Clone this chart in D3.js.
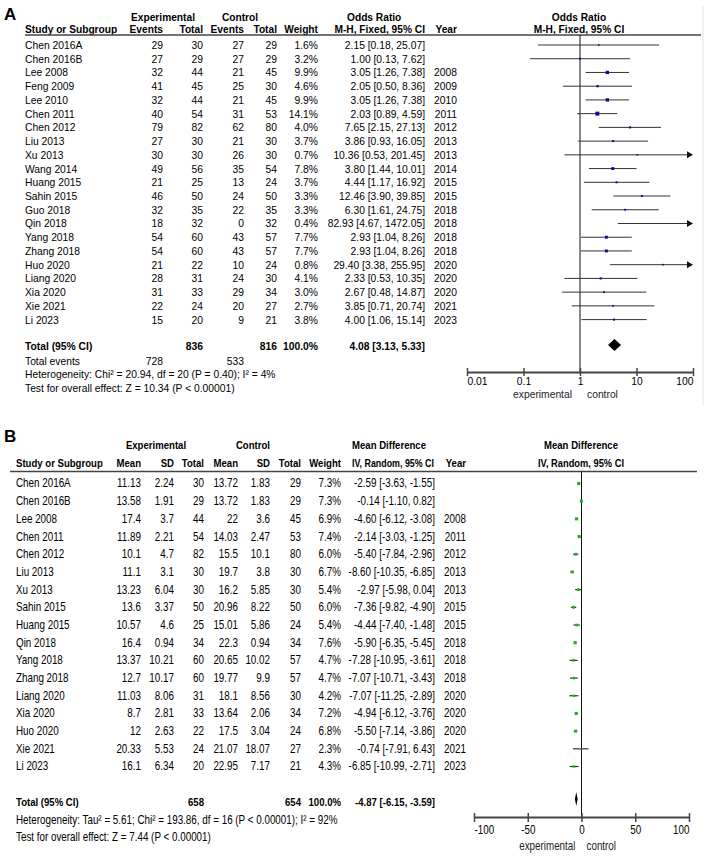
<!DOCTYPE html>
<html>
<head>
<meta charset="UTF-8">
<title>Forest plots A and B</title>
<script src="https://d3js.org/d3.v7.min.js"></script>
<style>
  body { margin: 0; background: #fff; }
  svg { display: block; }
</style>
</head>
<body>
<div id="chart"></div>
<script>
// ---------- panel A : odds ratio, fixed ----------
const studiesA = ["Chen 2016A", "Chen 2016B", "Lee 2008", "Feng 2009", "Lee 2010", "Chen 2011", "Chen 2012",
  "Liu 2013", "Xu 2013", "Wang 2014", "Huang 2015", "Sahin 2015", "Guo 2018", "Qin 2018", "Yang 2018",
  "Zhang 2018", "Huo 2020", "Liang 2020", "Xia 2020", "Xie 2021", "Li 2023"];
const expEventsA = [29, 27, 32, 41, 32, 40, 79, 27, 30, 49, 21, 46, 32, 18, 54, 54, 21, 28, 31, 22, 15];
const expTotalA  = [30, 29, 44, 45, 44, 54, 82, 30, 30, 56, 25, 50, 35, 32, 60, 60, 22, 31, 33, 24, 20];
const ctlEventsA = [27, 27, 21, 25, 21, 31, 62, 21, 26, 35, 13, 24, 22, 0, 43, 43, 10, 24, 29, 20, 9];
const ctlTotalA  = [29, 29, 45, 30, 45, 53, 80, 30, 30, 54, 24, 50, 35, 32, 57, 57, 24, 30, 34, 27, 21];
const weightA    = [1.6, 3.2, 9.9, 4.6, 9.9, 14.1, 4.0, 3.7, 0.7, 7.8, 3.7, 3.3, 3.3, 0.4, 7.7, 7.7, 0.8, 4.1, 3.0, 2.7, 3.8];
const orA   = [2.15, 1.00, 3.05, 2.05, 3.05, 2.03, 7.65, 3.86, 10.36, 3.80, 4.44, 12.46, 6.30, 82.93, 2.93, 2.93, 29.40, 2.33, 2.67, 3.85, 4.00];
const lowA  = [0.18, 0.13, 1.26, 0.50, 1.26, 0.89, 2.15, 0.93, 0.53, 1.44, 1.17, 3.90, 1.61, 4.67, 1.04, 1.04, 3.38, 0.53, 0.48, 0.71, 1.06];
const highA = [25.07, 7.62, 7.38, 8.36, 7.38, 4.59, 27.13, 16.05, 201.45, 10.01, 16.92, 39.85, 24.75, 1472.05, 8.26, 8.26, 255.95, 10.35, 14.87, 20.74, 15.14];
const yearA = ["", "", "2008", "2009", "2010", "2011", "2012", "2013", "2013", "2014", "2015", "2015", "2018", "2018", "2018", "2018", "2020", "2020", "2020", "2021", "2023"];
const totalA = {expTotal: 836, ctlTotal: 816, expEvents: 728, ctlEvents: 533, or: 4.08, low: 3.13, high: 5.33};
const ticksA = [0.01, 0.1, 1, 10, 100];

// ---------- panel B : mean difference, random ----------
const studiesB = ["Chen 2016A", "Chen 2016B", "Lee 2008", "Chen 2011", "Chen 2012", "Liu 2013", "Xu 2013",
  "Sahin 2015", "Huang 2015", "Qin 2018", "Yang 2018", "Zhang 2018", "Liang 2020", "Xia 2020", "Huo 2020",
  "Xie 2021", "Li 2023"];
const expMeanB  = [11.13, 13.58, 17.4, 11.89, 10.1, 11.1, 13.23, 13.6, 10.57, 16.4, 13.37, 12.7, 11.03, 8.7, 12, 20.33, 16.1];
const expSdB    = [2.24, 1.91, 3.7, 2.21, 4.7, 3.1, 6.04, 3.37, 4.6, 0.94, 10.21, 10.17, 8.06, 2.81, 2.63, 5.53, 6.34];
const expTotalB = [30, 29, 44, 54, 82, 30, 30, 50, 25, 34, 60, 60, 31, 33, 22, 24, 20];
const ctlMeanB  = [13.72, 13.72, 22, 14.03, 15.5, 19.7, 16.2, 20.96, 15.01, 22.3, 20.65, 19.77, 18.1, 13.64, 17.5, 21.07, 22.95];
const ctlSdB    = [1.83, 1.83, 3.6, 2.47, 10.1, 3.8, 5.85, 8.22, 5.86, 0.94, 10.02, 9.9, 8.56, 2.06, 3.04, 18.07, 7.17];
const ctlTotalB = [29, 29, 45, 53, 80, 30, 30, 50, 24, 34, 57, 57, 30, 34, 24, 27, 21];
const weightB   = [7.3, 7.3, 6.9, 7.4, 6.0, 6.7, 5.4, 6.0, 5.4, 7.6, 4.7, 4.7, 4.2, 7.2, 6.8, 2.3, 4.3];
const mdB   = [-2.59, -0.14, -4.60, -2.14, -5.40, -8.60, -2.97, -7.36, -4.44, -5.90, -7.28, -7.07, -7.07, -4.94, -5.50, -0.74, -6.85];
const lowB  = [-3.63, -1.10, -6.12, -3.03, -7.84, -10.35, -5.98, -9.82, -7.40, -6.35, -10.95, -10.71, -11.25, -6.12, -7.14, -7.91, -10.99];
const highB = [-1.55, 0.82, -3.08, -1.25, -2.96, -6.85, 0.04, -4.90, -1.48, -5.45, -3.61, -3.43, -2.89, -3.76, -3.86, 6.43, -2.71];
const yearB = ["", "", "2008", "2011", "2012", "2013", "2013", "2015", "2015", "2018", "2018", "2018", "2020", "2020", "2020", "2021", "2023"];
const totalB = {expTotal: 658, ctlTotal: 654, md: -4.87, low: -6.15, high: -3.59};
const ticksB = [-100, -50, 0, 50, 100];

const font = "'Liberation Sans', Arial, sans-serif";
const narrow = 0.82;   // panel B is set in a narrow face; squeeze Arial metrics horizontally
const ciFmt = (m, l, h) => m.toFixed(2) + " [" + l.toFixed(2) + ", " + h.toFixed(2) + "]";

const svg = d3.select("#chart").append("svg")
  .attr("width", 707).attr("height", 862)
  .attr("font-family", font)
  .style("background", "#fff");

function addText(g, x, y, s, anchor, sx) {
  sx = sx || 1;
  const t = g.append("text").attr("x", x / sx).attr("y", y)
    .attr("text-anchor", anchor || "start").text(s);
  if (sx !== 1) t.attr("transform", `scale(${sx},1)`);
  return t;
}

// draws one text column for all rows
function column(g, n, y, x, anchor, f, sx) {
  sx = sx || 1;
  const t = g.append("g").selectAll("text").data(d3.range(n)).join("text")
    .attr("x", x / sx).attr("y", i => y(i) + 4)
    .attr("text-anchor", anchor).text(f);
  if (sx !== 1) t.attr("transform", `scale(${sx},1)`);
}

// ================= PANEL A =================
const gA = svg.append("g").attr("font-size", 10.3).attr("fill", "#000");
const nA = studiesA.length;
const yA = d3.scaleLinear().domain([0, nA - 1]).range([45, 319.6]);
const xA = d3.scaleLog().domain([0.01, 100]).range([467, 693]);

addText(gA, 4, 20, "A").attr("font-size", 17).attr("font-weight", "bold");

const hA = gA.append("g").attr("font-weight", "bold").attr("font-size", 10.2);
addText(hA, 163, 20.5, "Experimental", "middle");
addText(hA, 240, 20.5, "Control", "middle");
addText(hA, 347, 20.5, "Odds Ratio");
addText(hA, 579, 20.5, "Odds Ratio", "middle");
addText(hA, 25, 32.5, "Study or Subgroup");
addText(hA, 163, 32.5, "Events", "end");
addText(hA, 203, 32.5, "Total", "end");
addText(hA, 244, 32.5, "Events", "end");
addText(hA, 277, 32.5, "Total", "end");
addText(hA, 318, 32.5, "Weight", "end");
addText(hA, 425, 32.5, "M-H, Fixed, 95% CI", "end");
addText(hA, 457, 32.5, "Year", "end");
addText(hA, 579, 32.5, "M-H, Fixed, 95% CI", "middle");
gA.append("line").attr("x1", 25).attr("x2", 701).attr("y1", 35).attr("y2", 35)
  .attr("stroke", "#444").attr("stroke-width", 1.3);
gA.append("line").attr("x1", 703).attr("x2", 703).attr("y1", 6).attr("y2", 405)
  .attr("stroke", "#e4e4e4").attr("stroke-width", 1);

column(gA, nA, yA, 25, "start", i => studiesA[i]);
column(gA, nA, yA, 163, "end", i => expEventsA[i]);
column(gA, nA, yA, 203, "end", i => expTotalA[i]);
column(gA, nA, yA, 244, "end", i => ctlEventsA[i]);
column(gA, nA, yA, 277, "end", i => ctlTotalA[i]);
column(gA, nA, yA, 318, "end", i => weightA[i].toFixed(1) + "%");
column(gA, nA, yA, 425, "end", i => ciFmt(orA[i], lowA[i], highA[i]));
column(gA, nA, yA, 457, "end", i => yearA[i]);

// totals
const tA = gA.append("g").attr("font-weight", "bold");
addText(tA, 25, 350, "Total (95% CI)");
addText(tA, 203, 350, totalA.expTotal, "end");
addText(tA, 277, 350, totalA.ctlTotal, "end");
addText(tA, 318, 350, "100.0%", "end");
addText(tA, 425, 350, ciFmt(totalA.or, totalA.low, totalA.high), "end");
addText(gA, 25, 364.5, "Total events");
addText(gA, 163, 364.5, totalA.expEvents, "end");
addText(gA, 244, 364.5, totalA.ctlEvents, "end");
addText(gA, 25, 378, "Heterogeneity: Chi\u00b2 = 20.94, df = 20 (P = 0.40); I\u00b2 = 4%");
addText(gA, 25, 392, "Test for overall effect: Z = 10.34 (P < 0.00001)");

// plot A
const axisYA = 372;
gA.append("line").attr("x1", xA(1)).attr("x2", xA(1)).attr("y1", 35).attr("y2", axisYA)
  .attr("stroke", "#111").attr("stroke-width", 1);
const xMaxA = xA.range()[1];
const ciA = gA.append("g");
ciA.selectAll("line").data(d3.range(nA)).join("line")
  .attr("x1", i => xA(Math.max(lowA[i], 0.01)))
  .attr("x2", i => highA[i] > 100 ? xMaxA - 4 : xA(highA[i]))
  .attr("y1", i => yA(i)).attr("y2", i => yA(i))
  .attr("stroke", "#333").attr("stroke-width", 1);
ciA.selectAll("path").data(d3.range(nA).filter(i => highA[i] > 100)).join("path")
  .attr("d", i => `M${xMaxA - 6},${yA(i) - 3.5}L${xMaxA},${yA(i)}L${xMaxA - 6},${yA(i) + 3.5}Z`)
  .attr("fill", "#111");
const boxA = i => Math.max(1.6, Math.sqrt(weightA[i]) * 1.05);
gA.append("g").selectAll("rect").data(d3.range(nA)).join("rect")
  .attr("x", i => xA(orA[i]) - boxA(i) / 2)
  .attr("y", i => yA(i) - boxA(i) / 2)
  .attr("width", boxA).attr("height", boxA)
  .attr("fill", "#0a0a9a");
const dyA = 345;
gA.append("path")
  .attr("d", `M${xA(totalA.low)},${dyA}L${xA(totalA.or)},${dyA - 6}L${xA(totalA.high)},${dyA}L${xA(totalA.or)},${dyA + 6}Z`)
  .attr("fill", "#000");

const axA = d3.axisBottom(xA).tickValues(ticksA).tickFormat(d => String(d)).tickSizeOuter(0);
const gAxA = gA.append("g").attr("transform", `translate(0,${axisYA})`).call(axA)
  .attr("font-family", font).attr("font-size", 10.3);
gAxA.select(".domain").attr("stroke", "#444").attr("stroke-width", 2);
gAxA.selectAll(".tick line").attr("y1", -4).attr("y2", 4).attr("stroke", "#444").attr("stroke-width", 1.5);
gAxA.selectAll(".tick text").attr("y", 13).attr("dy", 0).attr("fill", "#000")
  .attr("text-anchor", (d, i) => i === 0 ? "start" : i === ticksA.length - 1 ? "end" : "middle");
addText(gA, xA(1) - 8, 397.5, "experimental", "end").attr("fill", "#222");
addText(gA, xA(1) + 7, 397.5, "control").attr("fill", "#222");

// ================= PANEL B =================
const gB = svg.append("g").attr("font-size", 12).attr("fill", "#000");
const nB = studiesB.length;
const yB = d3.scaleLinear().domain([0, nB - 1]).range([483.5, 766.5]);
const xB = d3.scaleLinear().domain([-100, 100]).range([474, 689]);
const tb = (g, x, y, s, anchor) => addText(g, x, y, s, anchor, narrow);
const cb = (x, anchor, f) => column(gB, nB, yB, x, anchor, f, narrow);

addText(gB, 4, 442, "B").attr("font-size", 17).attr("font-weight", "bold");

const hB = gB.append("g").attr("font-weight", "bold").attr("font-size", 11.7);
tb(hB, 156, 449, "Experimental", "middle");
tb(hB, 253, 449, "Control", "middle");
tb(hB, 352, 449, "Mean Difference");
tb(hB, 581, 449, "Mean Difference", "middle");
tb(hB, 16, 467, "Study or Subgroup");
tb(hB, 141, 467, "Mean", "end");
tb(hB, 174, 467, "SD", "end");
tb(hB, 204, 467, "Total", "end");
tb(hB, 238, 467, "Mean", "end");
tb(hB, 270, 467, "SD", "end");
tb(hB, 301, 467, "Total", "end");
tb(hB, 341, 467, "Weight", "end");
tb(hB, 434, 467, "IV, Random, 95% CI", "end")
  .attr("textLength", 82 / narrow).attr("lengthAdjust", "spacingAndGlyphs");
tb(hB, 466, 467, "Year", "end");
tb(hB, 581, 467, "IV, Random, 95% CI", "middle")
  .attr("textLength", 86 / narrow).attr("lengthAdjust", "spacingAndGlyphs");
gB.append("line").attr("x1", 10).attr("x2", 697).attr("y1", 471.5).attr("y2", 471.5)
  .attr("stroke", "#444").attr("stroke-width", 1.6);

cb(16, "start", i => studiesB[i]);
cb(141, "end", i => String(expMeanB[i]));
cb(174, "end", i => String(expSdB[i]));
cb(204, "end", i => expTotalB[i]);
cb(238, "end", i => String(ctlMeanB[i]));
cb(270, "end", i => String(ctlSdB[i]));
cb(301, "end", i => ctlTotalB[i]);
cb(341, "end", i => weightB[i].toFixed(1) + "%");
cb(435, "end", i => ciFmt(mdB[i], lowB[i], highB[i]));
cb(466, "end", i => yearB[i]);

const tBg = gB.append("g").attr("font-weight", "bold").attr("font-size", 11.7);
tb(tBg, 16, 806, "Total (95% CI)");
tb(tBg, 204, 806, totalB.expTotal, "end");
tb(tBg, 301, 806, totalB.ctlTotal, "end");
tb(tBg, 341, 806, "100.0%", "end");
tb(tBg, 435, 806, ciFmt(totalB.md, totalB.low, totalB.high), "end");
tb(gB, 16, 824, "Heterogeneity: Tau\u00b2 = 5.61; Chi\u00b2 = 193.86, df = 16 (P < 0.00001); I\u00b2 = 92%");
tb(gB, 16, 841, "Test for overall effect: Z = 7.44 (P < 0.00001)");

// plot B
const axisYB = 817;
gB.append("line").attr("x1", xB(0)).attr("x2", xB(0)).attr("y1", 471.5).attr("y2", axisYB)
  .attr("stroke", "#111").attr("stroke-width", 1);
gB.append("g").selectAll("line").data(d3.range(nB)).join("line")
  .attr("x1", i => xB(lowB[i])).attr("x2", i => xB(highB[i]))
  .attr("y1", i => yB(i)).attr("y2", i => yB(i))
  .attr("stroke", "#333").attr("stroke-width", 1.2);
const boxB = i => Math.sqrt(weightB[i]) * 1.15;
gB.append("g").selectAll("rect").data(d3.range(nB)).join("rect")
  .attr("x", i => xB(mdB[i]) - boxB(i) / 2)
  .attr("y", i => yB(i) - boxB(i) / 2)
  .attr("width", boxB).attr("height", boxB)
  .attr("fill", "#1fb01f");
const dyB = 799;
gB.append("path")
  .attr("d", `M${xB(totalB.low)},${dyB}L${xB(totalB.md)},${dyB - 7}L${xB(totalB.high)},${dyB}L${xB(totalB.md)},${dyB + 7}Z`)
  .attr("fill", "#000");

const axB = d3.axisBottom(xB).tickValues(ticksB).tickFormat(d => String(d)).tickSizeOuter(0);
const gAxB = gB.append("g").attr("transform", `translate(0,${axisYB})`).call(axB)
  .attr("font-family", font).attr("font-size", 12);
gAxB.select(".domain").attr("stroke", "#444").attr("stroke-width", 2);
gAxB.selectAll(".tick line").attr("y1", -4).attr("y2", 5).attr("stroke", "#444").attr("stroke-width", 1.5);
gAxB.selectAll(".tick text").attr("y", 17).attr("dy", 0).attr("fill", "#000")
  .attr("transform", `scale(${narrow},1)`)
  .attr("text-anchor", (d, i) => i === 0 ? "start" : i === ticksB.length - 1 ? "end" : "middle");
tb(gB, xB(0) - 6, 850, "experimental", "end").attr("fill", "#222");
tb(gB, xB(0) + 5, 850, "control").attr("fill", "#222");
</script>
</body>
</html>
